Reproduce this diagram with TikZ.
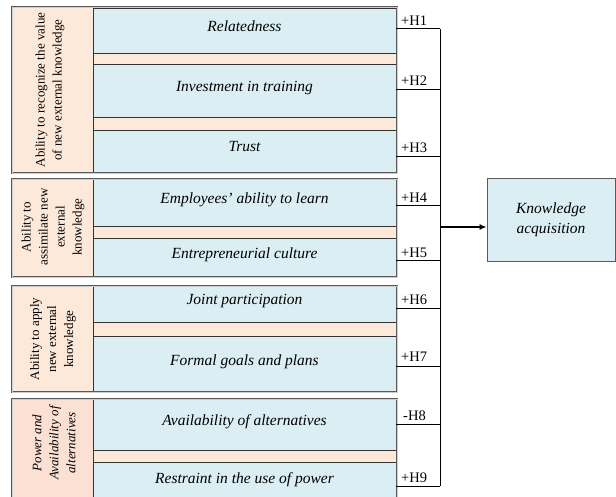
\documentclass[tikz,border=0pt]{standalone}
\usepackage{fontspec}
\setmainfont{Liberation Serif}
\usetikzlibrary{arrows.meta}
\definecolor{paleblue}{HTML}{DAEEF3}
\definecolor{paleorange}{HTML}{FDE9D9}
\definecolor{paleSalmon}{HTML}{FBE0D4}
\definecolor{framegray}{HTML}{5A5A5A}
\begin{document}
\begin{tikzpicture}[x=1pt,y=-1pt,
  group/.style={draw=framegray, line width=0.6pt, double=gray!40, double distance=0.8pt},
  factor/.style={draw=black!80, line width=0.6pt, fill=paleblue, minimum width=303pt,
    inner sep=0pt, text height=11pt, text depth=9pt,
    font=\fontsize{15.5}{18}\selectfont\itshape},
  dimlabel/.style={rotate=90, align=center, font=\fontsize{13}{17}\selectfont},
  hyp/.style={anchor=south west, inner sep=0pt, font=\fontsize{14.5}{16}\selectfont},
  link/.style={line width=1pt, black},
  outcome/.style={draw=framegray, line width=0.8pt, fill=paleblue, minimum width=128pt,
    minimum height=83pt, align=center, font=\fontsize{15.5}{20}\selectfont\itshape}
]
\useasboundingbox (0,0) rectangle (616,497);
\clip (0,0) rectangle (616,497);

% capability groups: background of the frame and left column
\fill[paleorange] (12,7) rectangle (397,173);
\fill[paleorange] (12,179) rectangle (397,277);
\fill[paleorange] (12,286) rectangle (397,392);
\fill[paleorange] (93,399) rectangle (397,504);
\fill[paleSalmon] (12,399) rectangle (93,504);

% factors
\node[factor, minimum height=45pt] (f1) at (244.5,30.5) {Relatedness};
\node[factor, minimum height=53pt] (f2) at (244.5,90.5) {Investment in training};
\node[factor, minimum height=42pt] (f3) at (244.5,151) {Trust};
\node[factor, minimum height=47pt] (f4) at (244.5,202.5) {Employees’ ability to learn};
\node[factor, minimum height=39pt] (f5) at (244.5,257.5) {Entrepreneurial culture};
\node[factor, minimum height=36pt] (f6) at (244.5,304) {Joint participation};
\node[factor, minimum height=56pt] (f7) at (244.5,364) {Formal goals and plans};
\node[factor, minimum height=51pt] (f8) at (244.5,424.5) {Availability of alternatives};
\node[factor, minimum height=41pt] (f9) at (244.5,482.5) {Restraint in the use of power};

% column separators
\draw[line width=0.6pt, black!80] (93,7) -- (93,173);
\draw[line width=0.6pt, black!80] (93,179) -- (93,277);
\draw[line width=0.6pt, black!80] (93,286) -- (93,392);
\draw[line width=0.6pt, black!80] (93,399) -- (93,504);

% group frames
\draw[group] (12,7) rectangle (397,173);
\draw[group] (12,179) rectangle (397,277);
\draw[group] (12,286) rectangle (397,392);
\draw[group] (12,399) rectangle (397,504);

% dimension labels
\node[dimlabel] (d1) at (50,90) {Ability to recognize the value\\of new external knowledge};
\node[dimlabel] (d2) at (53,227) {Ability to\\assimilate new\\external\\knowledge};
\node[dimlabel] (d3) at (53,339) {Ability to apply\\new external\\knowledge};
\node[dimlabel, font=\fontsize{13}{17}\selectfont\itshape] (d4) at (54,443) {Power and\\Availability of\\alternatives};

% outcome
\node[outcome] (ka) at (551,219.5) {Knowledge\\acquisition};

% bus
\coordinate (b1) at (440,29);
\coordinate (b2) at (440,90);
\coordinate (b3) at (440,157);
\coordinate (b4) at (440,206);
\coordinate (b5) at (440,261);
\coordinate (b6) at (440,308);
\coordinate (b7) at (440,366);
\coordinate (b8) at (440,424);
\coordinate (b9) at (440,486);
\coordinate (bo) at (440,227);

\foreach \i in {1,...,9} {
  \draw[link] (f\i.east |- b\i) -- (b\i);
}
\draw[link] (b1) -- (b9);
\draw[line width=1.6pt, -{Latex[length=7pt,width=6pt]}] (bo) -- (ka.west |- bo);

% hypothesis labels
\node[hyp] (h1) at (401,26) {+H1};
\node[hyp] (h2) at (401,86) {+H2};
\node[hyp] (h3) at (401,153) {+H3};
\node[hyp] (h4) at (401,203) {+H4};
\node[hyp] (h5) at (401,258) {+H5};
\node[hyp] (h6) at (401,305) {+H6};
\node[hyp] (h7) at (401,362) {+H7};
\node[hyp] (h8) at (403,421) {-H8};
\node[hyp] (h9) at (401,483) {+H9};
\end{tikzpicture}
\end{document}
